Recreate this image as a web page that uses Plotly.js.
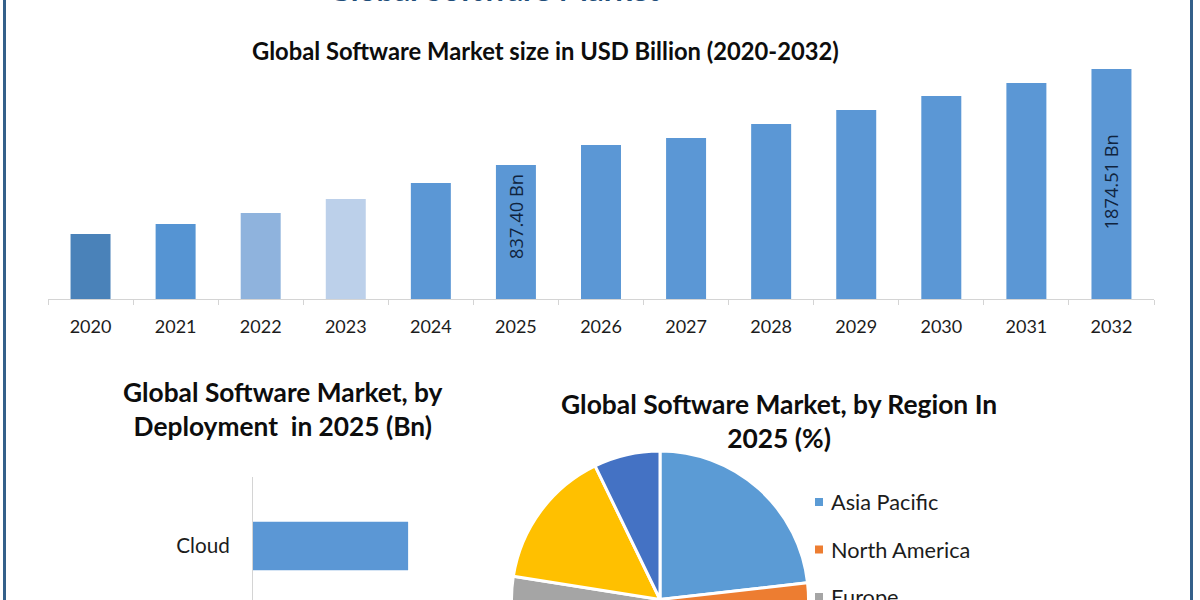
<!DOCTYPE html>
<html>
<head>
<meta charset="utf-8">
<title>Global Software Market</title>
<script src="https://cdn.plot.ly/plotly-3.0.1.min.js"></script>
<style>
  html, body { margin: 0; padding: 0; width: 1200px; height: 600px; overflow: hidden; background: #fff; }
  /* the reference is a crop: the banner title and the pie run past its edges */
  #chart { position: absolute; left: 0; top: -40px; width: 1200px; height: 840px; }
</style>
</head>
<body>
<div id="chart"></div>
<script>
var years = ["2020", "2021", "2022", "2023", "2024", "2025", "2026", "2027", "2028", "2029", "2030", "2031", "2032"];
var marketSize = [92, 200, 319, 470, 643, 837.4, 1054, 1129, 1281, 1432, 1583, 1724, 1874.51];
var barColors = ["#4a82b9", "#5594d3", "#8fb3dd", "#bcd0ea", "#5b97d5", "#5b97d5", "#5b97d5", "#5b97d5", "#5b97d5", "#5b97d5", "#5b97d5", "#5b97d5", "#5b97d5"];
var labelledYears = ["2025", "2032"];
var labelledText = ["837.40 Bn", "1874.51 Bn"];
var labelledAt = [287, 654];

var deployments = ["Cloud", "On-Premises"];
var deploymentValues = [500, 337.4];

var regions = ["Asia Pacific", "North America", "Europe", "South America", "Middle East & Africa"];
var regionShares = [23.2, 32, 22.3, 15.3, 7.2];
var regionColors = ["#5b9bd5", "#ed7d31", "#a5a5a5", "#ffc000", "#4472c4"];

(function () {
  "use strict";

  var W = 1200, H = 840, TOP = 40;
  var FONT = "Lato, sans-serif";
  var INK = "#1c1c1c";
  var AXIS = "#d4d4d4";
  var FRAME = "#34608a";

  function px(x) { return x / W; }
  function py(y) { return 1 - (y + TOP) / H; }

  // bars in the picture do not start from zero on the scale their labels imply,
  // so they hang from a floor; plotly's y is a length measured from base
  var axisFloor = -610;
  var barLengths = marketSize.map(function (v) { return v - axisFloor; });

  var traces = [
    {
      type: "bar", x: years, y: barLengths, base: axisFloor, width: 0.47,
      marker: { color: barColors }, xaxis: "x", yaxis: "y", hoverinfo: "x",
    },
    {
      type: "bar", orientation: "h", y: deployments, x: deploymentValues, width: 0.35,
      marker: { color: "#5b97d5" }, xaxis: "x2", yaxis: "y2", hoverinfo: "x+y",
    },
    {
      type: "pie", labels: regions, values: regionShares, sort: false, direction: "clockwise", rotation: 0,
      marker: { colors: regionColors, line: { color: "#fff", width: 3 } },
      textinfo: "none", domain: { x: [px(511.5), px(808.5)], y: [py(748), py(451)] },
    },
  ];

  function title(text, x, y, size, color) {
    return {
      xref: "paper", yref: "paper", x: px(x), y: py(y), xanchor: "center", yanchor: "middle",
      text: text, showarrow: false, font: { family: FONT, size: size, color: color || "#0d0d0d", weight: 700 },
    };
  }

  var annotations = [
    title("Global Software Market", 494, -11, 31.3, "#1f4e79"),
    title("Global Software Market size in USD Billion (2020-2032)", 545, 50.5, 23.75),
    title("Global Software Market, by<br>Deployment  in 2025 (Bn)", 283, 409, 26.3),
    title("Global Software Market, by Region In<br>2025 (%)", 779, 421, 26.4),
  ];
  var shapes = [
    { type: "line", xref: "paper", yref: "paper", x0: px(4.5), x1: px(4.5), y0: 0, y1: 1, line: { color: FRAME, width: 3 } },
    { type: "line", xref: "paper", yref: "paper", x0: px(1191.5), x1: px(1191.5), y0: 0, y1: 1, line: { color: FRAME, width: 3 } },
  ];

  // annotations read a year-like string as a category index, so pass the index
  labelledYears.forEach(function (year, i) {
    annotations.push({
      x: years.indexOf(year), y: labelledAt[i], xref: "x", yref: "y", text: labelledText[i], textangle: -90, showarrow: false,
      font: { family: "Open Sans, sans-serif", size: 18.3, color: "#10243e" },
    });
  });

  // legend is spaced far wider than plotly's own pie legend allows
  regions.forEach(function (name, i) {
    var y = 502 + i * 47.5;
    shapes.push({
      type: "rect", xref: "paper", yref: "paper", x0: px(815), x1: px(823), y0: py(y + 4), y1: py(y - 4),
      fillcolor: regionColors[i], line: { width: 0 },
    });
    annotations.push({
      xref: "paper", yref: "paper", x: px(829), y: py(y), xanchor: "left", yanchor: "middle", text: name, showarrow: false,
      font: { family: FONT, size: 21.7, color: INK },
    });
  });

  Plotly.newPlot("chart", traces, {
    width: W, height: H, margin: { l: 0, r: 0, t: 0, b: 0 }, showlegend: false,
    paper_bgcolor: "#fff", plot_bgcolor: "#fff", font: { family: FONT, color: INK },
    xaxis: {
      domain: [px(48), px(1154)], anchor: "y", type: "category", range: [-0.5, 12.5], tickson: "boundaries", ticks: "outside", ticklen: 5,
      ticklabelstandoff: 11, tickangle: 0, tickcolor: AXIS, showline: true, linecolor: AXIS, showgrid: false, tickfont: { size: 18, color: INK }, fixedrange: true,
    },
    yaxis: { domain: [py(299), py(50)], anchor: "x", range: [axisFloor, 2080], visible: false, fixedrange: true },
    xaxis2: { domain: [px(253), px(450)], anchor: "y2", range: [0, 635], visible: false, fixedrange: true },
    yaxis2: {
      domain: [py(753), py(477)], anchor: "x2", type: "category", autorange: "reversed", ticks: "outside", ticklen: 18,
      tickcolor: "rgba(0,0,0,0)", showline: true, linecolor: AXIS, showgrid: false, tickfont: { size: 20.7, color: INK }, fixedrange: true,
    },
    annotations: annotations,
    shapes: shapes,
  }, { displayModeBar: false });
})();
</script>
</body>
</html>
